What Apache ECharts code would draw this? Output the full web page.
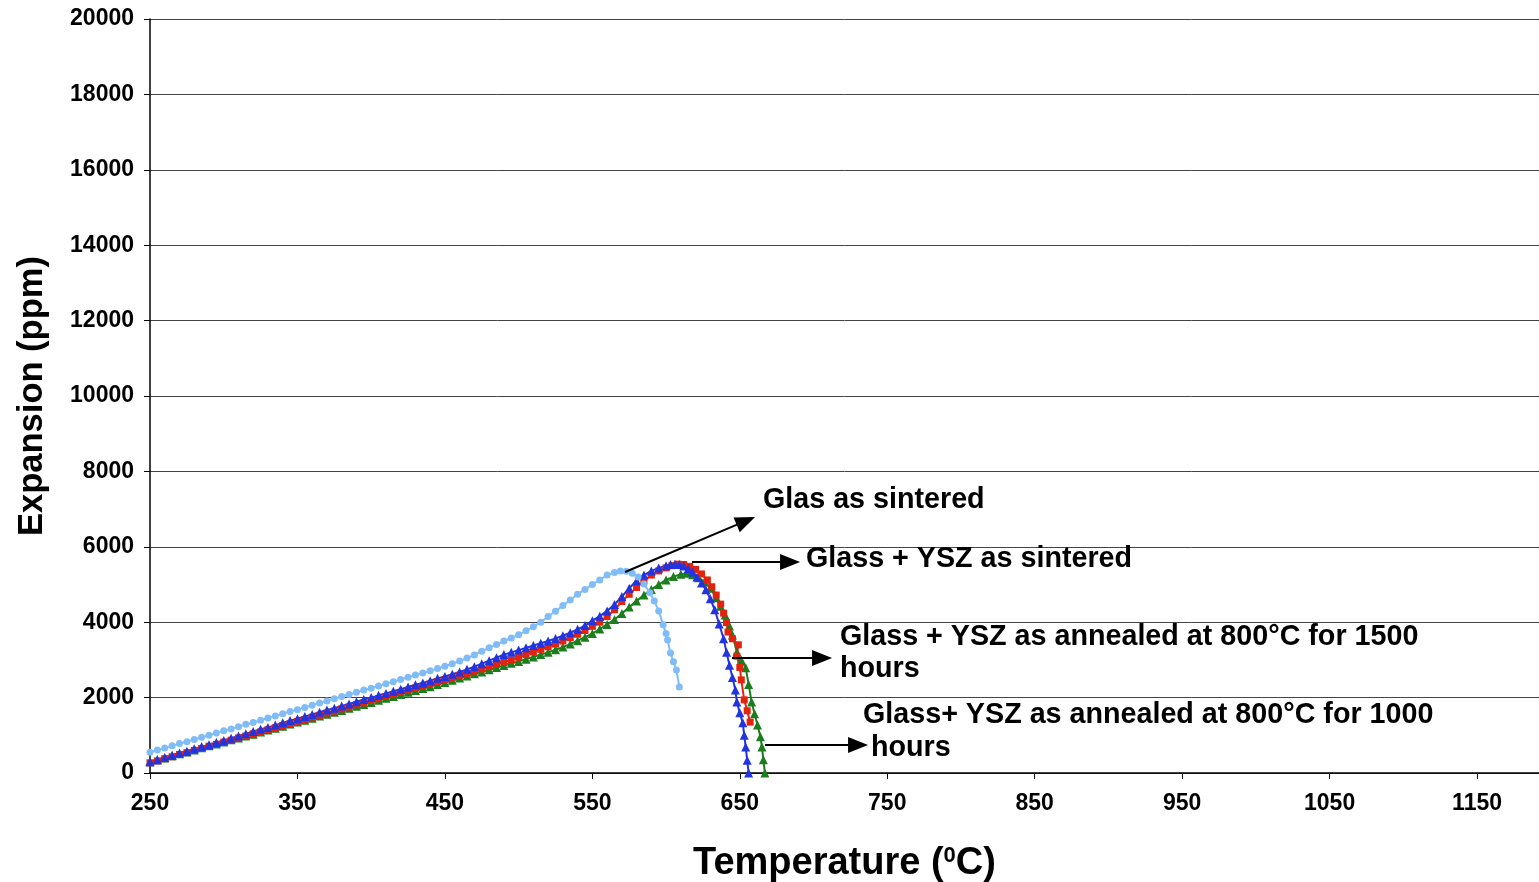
<!DOCTYPE html>
<html><head><meta charset="utf-8">
<script src="https://cdn.jsdelivr.net/npm/echarts@6/dist/echarts.min.js"></script>
<style>html,body{margin:0;padding:0;background:#fff}#c{width:1539px;height:882px}</style>
</head><body><div id="c"></div>
<script>
const xTicks = [250,350,450,550,650,750,850,950,1050,1150];
const yTicks = [0,2000,4000,6000,8000,10000,12000,14000,16000,18000,20000];

const glassSintered = [[250,550],[255,610],[260,660],[265,720],[270,780],[275,830],[280,890],[285,950],[290,1000],[295,1060],[300,1120],[305,1170],[310,1230],[315,1290],[320,1340],[325,1400],[330,1460],[335,1510],[340,1570],[345,1630],[350,1680],[355,1740],[360,1800],[365,1860],[370,1910],[375,1970],[380,2030],[385,2080],[390,2140],[395,2200],[400,2250],[405,2310],[410,2370],[415,2420],[420,2480],[425,2540],[430,2600],[435,2650],[440,2710],[445,2770],[450,2830],[455,2900],[460,2970],[465,3050],[470,3130],[475,3230],[480,3320],[485,3410],[490,3500],[495,3580],[500,3670],[505,3770],[510,3880],[515,4000],[520,4150],[525,4290],[530,4440],[535,4590],[540,4740],[545,4870],[550,5000],[555,5120],[560,5250],[565,5320],[569,5360],[573,5350],[577,5300],[581,5200],[585,5010],[589,4780],[592,4560],[595,4300],[598,3930],[600,3700],[601,3530],[603,3180],[605,2950],[607,2730],[609,2280]];

const ysz1000 = [[250,300],[255,350],[260,400],[265,460],[270,510],[275,560],[280,610],[285,670],[290,720],[295,770],[300,820],[305,880],[310,930],[315,980],[320,1030],[325,1090],[330,1140],[335,1190],[340,1240],[345,1300],[350,1350],[355,1400],[360,1450],[365,1510],[370,1560],[375,1610],[380,1660],[385,1720],[390,1770],[395,1820],[400,1870],[405,1930],[410,1980],[415,2030],[420,2080],[425,2140],[430,2190],[435,2240],[440,2290],[445,2350],[450,2400],[455,2460],[460,2520],[465,2570],[470,2630],[475,2680],[480,2740],[485,2800],[490,2850],[495,2910],[500,2960],[505,3020],[510,3080],[515,3140],[520,3200],[525,3270],[530,3340],[535,3420],[540,3510],[545,3600],[550,3700],[555,3820],[560,3940],[565,4070],[570,4230],[575,4400],[580,4560],[585,4720],[590,4870],[595,5000],[600,5120],[605,5210],[610,5270],[614,5300],[618,5260],[622,5180],[626,5070],[630,4900],[634,4650],[637,4420],[640,4190],[643,3900],[645,3660],[648,3210],[651,3000],[654,2790],[656,2350],[658,1880],[660,1570],[662,1270],[664,960],[665,690],[666,350],[667,0]];

const yszSintered = [[250,270],[255,320],[260,380],[265,430],[270,490],[275,540],[280,600],[285,650],[290,710],[295,760],[300,820],[305,870],[310,930],[315,980],[320,1040],[325,1090],[330,1150],[335,1200],[340,1260],[345,1310],[350,1370],[355,1420],[360,1480],[365,1530],[370,1590],[375,1640],[380,1700],[385,1750],[390,1810],[395,1860],[400,1920],[405,1970],[410,2030],[415,2080],[420,2140],[425,2190],[430,2250],[435,2300],[440,2360],[445,2420],[450,2480],[455,2530],[460,2590],[465,2640],[470,2700],[475,2760],[480,2820],[485,2880],[490,2940],[495,3000],[500,3070],[505,3140],[510,3210],[515,3280],[520,3350],[525,3420],[530,3500],[535,3590],[540,3680],[545,3780],[550,3890],[555,4000],[560,4150],[565,4330],[570,4550],[575,4740],[580,4920],[585,5100],[590,5250],[595,5360],[600,5440],[604,5500],[608,5540],[612,5530],[616,5480],[620,5400],[624,5280],[628,5120],[631,4940],[634,4720],[637,4480],[639,4240],[641,3990],[642,3740],[645,3560],[649,3400],[648,3100],[650,2800],[651,2470],[653,1940],[655,1650],[657,1350]];

const ysz1500 = [[250,300],[255,350],[260,410],[265,470],[270,530],[275,580],[280,640],[285,700],[290,750],[295,810],[300,860],[305,920],[310,980],[315,1040],[320,1100],[325,1160],[330,1210],[335,1270],[340,1330],[345,1390],[350,1440],[355,1500],[360,1550],[365,1610],[370,1670],[375,1720],[380,1780],[385,1830],[390,1890],[395,1950],[400,2000],[405,2060],[410,2110],[415,2170],[420,2220],[425,2280],[430,2340],[435,2390],[440,2450],[445,2510],[450,2560],[455,2620],[460,2680],[465,2750],[470,2820],[475,2900],[480,2980],[485,3060],[490,3140],[495,3200],[500,3260],[505,3320],[510,3380],[515,3440],[520,3500],[525,3570],[530,3640],[535,3720],[540,3810],[545,3910],[550,4040],[555,4160],[560,4300],[565,4470],[570,4680],[575,4900],[580,5100],[585,5250],[590,5360],[595,5440],[600,5500],[603,5530],[606,5540],[609,5530],[612,5490],[615,5420],[618,5330],[621,5200],[624,5040],[627,4860],[630,4620],[633,4330],[636,3950],[639,3560],[641,3200],[643,2860],[645,2530],[647,2200],[648,1880],[650,1600],[652,1330],[653,1000],[654,690],[655,340],[656,0]];

const arrows = [
  [[572.2,5332],[654.1,6687]],
  [[617.6,5597],[684.1,5597]],
  [[644.7,3050],[705.8,3050]],
  [[667.1,743],[730.2,743]]
];
const notes = [
  {text:'Glas as sintered', x:763, y:500},
  {text:'Glass + YSZ as sintered', x:806, y:559},
  {text:'Glass + YSZ as annealed at 800°C for 1500', x:840, y:637},
  {text:'hours', x:840, y:669},
  {text:'Glass+ YSZ as annealed at 800°C for 1000', x:863, y:715},
  {text:'hours', x:871, y:748}
];

const FONT = 'Arial, "Liberation Sans", sans-serif';
const chart = echarts.init(document.getElementById('c'), null, {renderer:'canvas'});
function mk(name, data, color, symbol, size, extra) {
  return Object.assign({
    name, type:'line', data, symbol, symbolSize:size, showSymbol:true,
    itemStyle:{color}, lineStyle:{color, width:2}, animation:false, z:2
  }, extra || {});
}
chart.setOption({
  animation:false,
  grid:{left:150, right:0, top:19, bottom:109, containLabel:false, outerBoundsMode:'none'},
  xAxis:{
    type:'value', min:250, max:1192, interval:100,
    name:'{a|Temperature (}{s|0}{a|C)}', nameLocation:'middle', nameGap:72,
    nameTextStyle:{rich:{a:{fontSize:38,fontWeight:'bold',fontFamily:FONT,color:'#000'},s:{fontSize:22,fontWeight:'bold',fontFamily:FONT,color:'#000',verticalAlign:'top',padding:[0,0,16,0]}}},
    axisLine:{show:true, lineStyle:{color:'#000', width:1.5}},
    axisTick:{show:true, length:6, inside:false, customValues:xTicks, lineStyle:{color:'#000'}},
    axisLabel:{customValues:xTicks, fontSize:23, fontWeight:'bold', fontFamily:FONT, color:'#000', margin:19,
      formatter:v => xTicks.indexOf(v) >= 0 ? String(v) : ''},
    splitLine:{show:false}
  },
  yAxis:{
    type:'value', min:0, max:20000, interval:2000,
    name:'Expansion (ppm)', nameLocation:'middle', nameGap:100,
    nameTextStyle:{fontSize:34.5, fontWeight:'bold', fontFamily:FONT, color:'#000'},
    axisLine:{show:true, lineStyle:{color:'#000', width:1.5}},
    axisTick:{show:true, length:6, inside:false, lineStyle:{color:'#000'}},
    axisLabel:{fontSize:23, fontWeight:'bold', fontFamily:FONT, color:'#000', margin:16,
      formatter:v => String(v)},
    splitLine:{show:true, lineStyle:{color:'#444', width:1}}
  },
  series:[
    mk('Glass+ YSZ as annealed at 800°C for 1000 hours', ysz1000, '#1b7d1b', 'triangle', 9),
    mk('Glass + YSZ as sintered', yszSintered, '#e3230e', 'rect', 7),
    mk('Glass + YSZ as annealed at 800°C for 1500 hours', ysz1500, '#2233e0', 'triangle', 9),
    mk('Glas as sintered', glassSintered, '#80bdf8', 'circle', 7, {
      markLine:{
        silent:true, animation:false, symbol:['none','triangle'], symbolSize:[16,20],
        lineStyle:{color:'#000', width:2, type:'solid'}, label:{show:false},
        itemStyle:{color:'#000'},
        data: arrows.map(a => [{coord:a[0]},{coord:a[1]}])
      }
    })
  ],
  graphic: notes.map(n => ({
    type:'text', x:n.x, y:n.y, z:10,
    style:{text:n.text, fill:'#000', font:'bold 28.7px ' + FONT, verticalAlign:'middle', align:'left'}
  }))
});
</script>
</body></html>
